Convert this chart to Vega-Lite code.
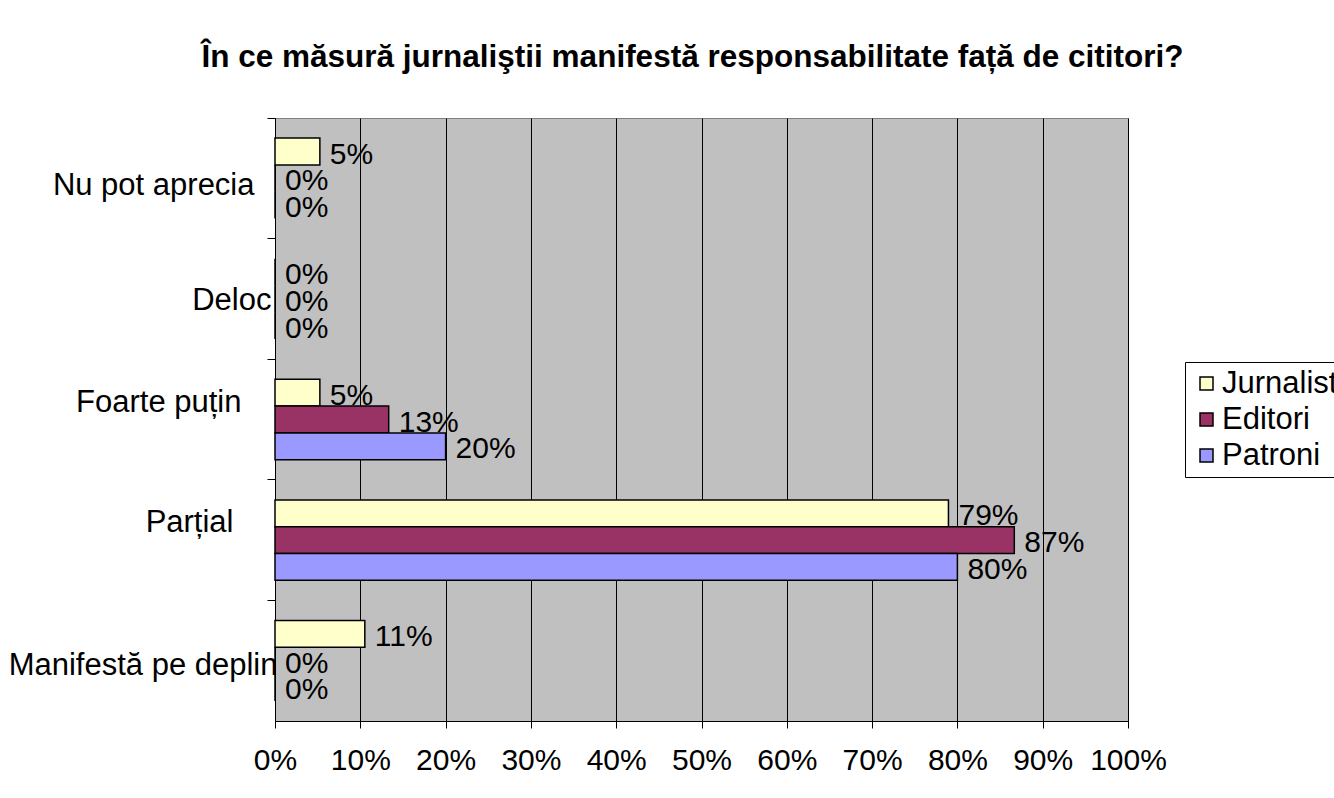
{
  "$schema": "https://vega.github.io/schema/vega-lite/v6.json",
  "width": 853,
  "height": 603,
  "autosize": {"type": "none"},
  "padding": {"left": 275, "top": 118, "right": 206, "bottom": 77},
  "background": "white",
  "title": {
    "text": "În ce măsură jurnaliştii manifestă responsabilitate față de cititori?",
    "font": "Liberation Sans",
    "fontSize": 31.5,
    "fontWeight": "bold",
    "color": "black",
    "anchor": "middle",
    "baseline": "alphabetic",
    "offset": 19,
    "dx": -9,
    "limit": 1300
  },
  "data": {
    "values": [
      {"cat": "Nu pot aprecia", "group": "Jurnalist", "value": 0.0526},
      {"cat": "Nu pot aprecia", "group": "Editori", "value": 0},
      {"cat": "Nu pot aprecia", "group": "Patroni", "value": 0},
      {"cat": "Deloc", "group": "Jurnalist", "value": 0},
      {"cat": "Deloc", "group": "Editori", "value": 0},
      {"cat": "Deloc", "group": "Patroni", "value": 0},
      {"cat": "Foarte puțin", "group": "Jurnalist", "value": 0.0526},
      {"cat": "Foarte puțin", "group": "Editori", "value": 0.1333},
      {"cat": "Foarte puțin", "group": "Patroni", "value": 0.2},
      {"cat": "Parțial", "group": "Jurnalist", "value": 0.7895},
      {"cat": "Parțial", "group": "Editori", "value": 0.8667},
      {"cat": "Parțial", "group": "Patroni", "value": 0.8},
      {"cat": "Manifestă pe deplin", "group": "Jurnalist", "value": 0.1053},
      {"cat": "Manifestă pe deplin", "group": "Editori", "value": 0},
      {"cat": "Manifestă pe deplin", "group": "Patroni", "value": 0}
    ]
  },
  "encoding": {
    "y": {
      "field": "cat",
      "type": "nominal",
      "sort": ["Nu pot aprecia", "Deloc", "Foarte puțin", "Parțial", "Manifestă pe deplin"],
      "scale": {"paddingInner": 0.3333, "paddingOuter": 0.1667},
      "axis": {
        "title": null,
        "bandPosition": -0.25,
        "ticks": true,
        "tickSize": 8,
        "tickColor": "black",
        "domainColor": "black",
        "domainWidth": 1,
        "labelFont": "Liberation Sans",
        "labelFontSize": 31,
        "labelColor": "black",
        "labelPadding": {
          "condition": [
            {"test": "datum.value === 'Nu pot aprecia'", "value": 13},
            {"test": "datum.value === 'Deloc'", "value": -4},
            {"test": "datum.value === 'Foarte puțin'", "value": 26},
            {"test": "datum.value === 'Parțial'", "value": 34}
          ],
          "value": -10
        },
        "labelOffset": {
          "condition": [
            {"test": "datum.value === 'Nu pot aprecia'", "value": 8},
            {"test": "datum.value === 'Deloc'", "value": 2},
            {"test": "datum.value === 'Foarte puțin'", "value": -17},
            {"test": "datum.value === 'Parțial'", "value": -17}
          ],
          "value": 5
        },
        "labelLimit": 400,
        "grid": false
      }
    },
    "yOffset": {
      "field": "group",
      "type": "nominal",
      "sort": ["Jurnalist", "Editori", "Patroni"],
      "scale": {"paddingInner": 0, "paddingOuter": 0}
    },
    "x": {
      "field": "value",
      "type": "quantitative",
      "scale": {"domain": [0, 1], "nice": false},
      "axis": {
        "title": null,
        "format": ".0%",
        "values": [0, 0.1, 0.2, 0.3, 0.4, 0.5, 0.6, 0.7, 0.8, 0.9, 1],
        "grid": true,
        "gridColor": "black",
        "gridWidth": 1,
        "gridOpacity": 1,
        "tickColor": "black",
        "tickSize": 7,
        "domainColor": "black",
        "labelFont": "Liberation Sans",
        "labelFontSize": 30,
        "labelColor": "black",
        "labelPadding": 17,
        "labelFlush": false
      }
    }
  },
  "layer": [
    {
      "mark": {"type": "bar", "stroke": "black", "strokeWidth": 1.5},
      "encoding": {
        "color": {
          "field": "group",
          "type": "nominal",
          "sort": ["Jurnalist", "Editori", "Patroni"],
          "scale": {"domain": ["Jurnalist", "Editori", "Patroni"], "range": ["#FFFFCC", "#993366", "#9999FF"]},
          "legend": {
            "title": null,
            "orient": "none",
            "legendX": 910,
            "legendY": 244,
            "strokeColor": "black",
            "fillColor": "white",
            "padding": 6,
            "symbolType": "square",
            "symbolSize": 169,
            "symbolStrokeColor": "black",
            "symbolStrokeWidth": 1.5,
            "labelFont": "Liberation Sans",
            "labelFontSize": 31,
            "labelColor": "black",
            "labelOffset": 0,
            "rowPadding": 4,
            "labelLimit": 400
          }
        }
      }
    },
    {
      "mark": {"type": "text", "align": "left", "baseline": "middle", "dx": 10, "dy": 3, "font": "Liberation Sans", "fontSize": 30, "color": "black"},
      "encoding": {
        "text": {"field": "value", "type": "quantitative", "format": ".0%"}
      }
    }
  ],
  "config": {
    "view": {"fill": "#C0C0C0", "stroke": "#808080", "strokeWidth": 1}
  }
}
